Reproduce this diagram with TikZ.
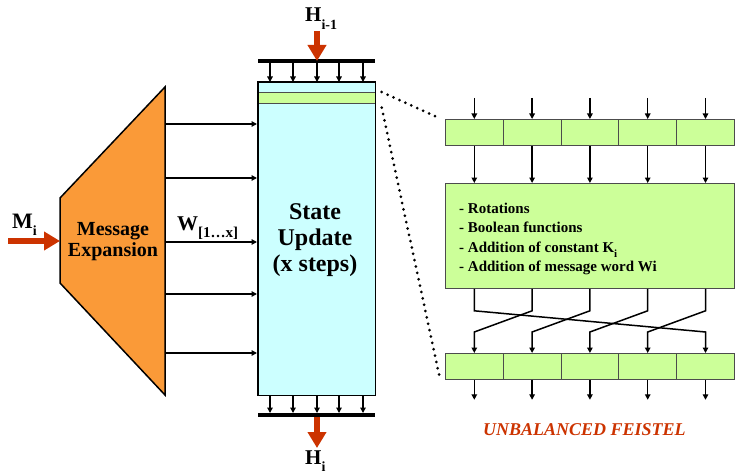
\documentclass[tikz,border=0pt]{standalone}
\usepackage{fontspec}
\setmainfont{Liberation Serif}
\usetikzlibrary{arrows.meta,calc}
\definecolor{orng}{RGB}{250,154,56}
\definecolor{cyn}{RGB}{204,255,255}
\definecolor{grn}{RGB}{204,255,153}
\definecolor{rd}{RGB}{204,51,0}
\newcommand\mysub[2][14]{\raisebox{-0.35em}{\fontsize{#1}{#1}\selectfont #2}}
\begin{document}
\begin{tikzpicture}[x=1pt,y=-1pt,
  conn/.style={line width=1.3pt,-{Triangle[length=5.5pt,width=5.5pt]}},
  wire/.style={line width=1.5pt,-{Triangle[length=5.5pt,width=5.5pt]}},
  redarr/.style={draw=rd,line width=6pt,-{Triangle[length=16pt,width=18pt]}},
  cell/.style={draw=gray!60!black,line width=0.8pt,fill=grn,minimum width=57.8pt,minimum height=26pt,inner sep=0pt,anchor=north west},
  lbl/.style={font=\bfseries\fontsize{21}{21}\selectfont,inner sep=0pt,anchor=base west},
  dotline/.style={line width=3pt,dash pattern=on 0pt off 6.5pt,line cap=round}
]
\useasboundingbox (0,0) rectangle (735,473);

% message expansion
\draw[fill=orng,line width=1.5pt] (60,198) -- (165,87) -- (165,395) -- (60,283) -- cycle;
\coordinate (meR) at (165,241);
\coordinate (meL) at (60,241);
\node[font=\bfseries\fontsize{20}{21}\selectfont,align=center,inner sep=0pt] (me) at (113,242) {Message\\Expansion};

% state box
\node[fill=cyn,minimum width=117pt,minimum height=313pt,inner sep=0pt,anchor=north west] (state) at (258,82) {};
\node[fill=grn,draw=gray!60!black,line width=0.7pt,minimum width=117pt,minimum height=11pt,anchor=north west,inner sep=0pt] (band) at (258,92) {};
\draw[line width=1.8pt] (state.north west) rectangle (state.south east);
\node[font=\bfseries\fontsize{24}{26}\selectfont,align=center,inner sep=0pt] (st) at (315,240) {State\\Update\\(x steps)};

% bars
\coordinate (tbl) at (258,61); \coordinate (tbr) at (375,61);
\coordinate (bbl) at (258,415); \coordinate (bbr) at (375,415);
\draw[line width=4pt] (tbl) -- (tbr);
\draw[line width=4pt] (bbl) -- (bbr);
\foreach \x in {270,293,317,339,363} {
  \draw[conn] (tbl -| \x,0) ++(0,2) -- (state.north -| \x,0);
  \draw[conn] (state.south -| \x,0) -- ($(bbl -| \x,0)+(0,-2)$);
}

% red arrows
\coordinate (hin) at (317,31);
\coordinate (hout) at (317,448);
\coordinate (min) at (8,241);
\draw[redarr] (hin) -- (tbl -| hin);
\draw[redarr] (bbl -| hout) ++(0,2) -- (hout);
\draw[redarr] (min) -- (meL);

% labels
\node[lbl] (hprev) at (305,22) {H\mysub{i-1}};
\node[lbl] (hnext) at (305,464) {H\mysub{i}};
\node[lbl,font=\bfseries\fontsize{22}{22}\selectfont] (mi) at (12,228) {M\mysub{i}};
\node[lbl] (w) at (177,230) {W\mysub[15]{[1…x]}};

% message word arrows
\foreach \y in {124,178,242,294,353} {
  \draw[conn] (meR |- 0,\y) -- ($(state.west |- 0,\y)+(-1,0)$);
}

% feistel
\foreach \i in {0,...,4} {
  \node[cell] (t\i) at ({445+57.8*\i},119) {};
  \node[cell] (b\i) at ({445+57.8*\i},353) {};
}
\node[cell,minimum width=289pt,minimum height=105pt] (f) at (445,183) {};
\node[font=\bfseries\fontsize{15}{19.5}\selectfont,align=left,anchor=west,inner sep=0pt] (ftxt) at (459,239) {- Rotations\\- Boolean functions\\- Addition of constant K\mysub[11]{i}\\- Addition of message word Wi};

\foreach \i in {0,...,4} {
  \pgfmathtruncatemacro\j{mod(\i+4,5)}
  \draw[conn] ($(t\i.north)+(0,-21)$) -- (t\i.north);
  \draw[conn] (t\i.south) -- (f.north -| t\i.south);
  \draw[wire] (f.south -| t\i.south) -- ++(0,22) -- ($(b\j.north)+(0,-21)$) -- (b\j.north);
  \draw[conn] (b\i.south) -- ++(0,20);
}

% dotted zoom lines
\draw[dotline] ($(band.north east)+(6,0)$) -- ($(t0.north west)+(-6,-1)$);
\draw[dotline] ($(band.south east)+(6,4)$) -- ($(b0.south west)+(-5,-1)$);

\node[font=\bfseries\itshape\fontsize{18}{18}\selectfont,text=rd,anchor=base west,inner sep=0pt] (ub) at (483,435) {UNBALANCED FEISTEL};
\end{tikzpicture}
\end{document}
